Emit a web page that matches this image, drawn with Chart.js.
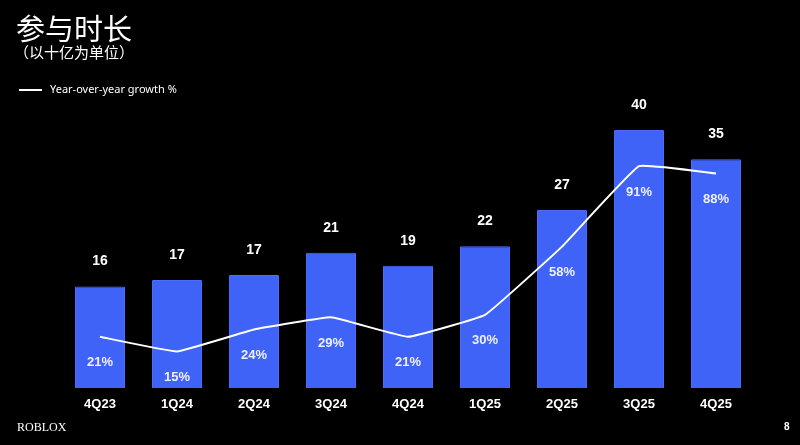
<!DOCTYPE html>
<html>
<head>
<meta charset="utf-8">
<script src="https://cdn.jsdelivr.net/npm/chart.js@4"></script>
<style>
    html, body { margin: 0; padding: 0; background: #000; }
    #wrap { position: relative; width: 800px; height: 445px; overflow: hidden; }
    #chart { position: absolute; left: 0; top: 0; }
    .title { position: absolute; left: 16px; top: 6px; color: #fff; font: 29px "Noto Sans CJK SC", sans-serif; }
    .sub { position: absolute; left: 14px; top: 41px; color: #fff; font: 15px "Noto Sans CJK SC", sans-serif; }
    .legend { position: absolute; left: 19px; top: 81px; color: #fff; font: 11px "Noto Sans", sans-serif; }
    .legend i { display: inline-block; width: 23px; height: 2px; background: #fff; vertical-align: middle; margin-right: 8px; }
    .brand { position: absolute; left: 17px; top: 420px; color: #fff; font: 12px "Liberation Serif", serif; }
    .page { position: absolute; left: 784px; top: 421px; color: #fff; font: bold 10px "Liberation Sans", sans-serif; }
</style>
</head>
<body>
<div id="wrap">
    <canvas id="chart" width="800" height="445"></canvas>
    <div class="title">参与时长</div>
    <div class="sub">（以十亿为单位）</div>
    <div class="legend"><i></i>Year-over-year growth %</div>
    <div class="brand">ROBLOX</div>
    <div class="page">8</div>
</div>
<script>
const quarters = ["4Q23", "1Q24", "2Q24", "3Q24", "4Q24", "1Q25", "2Q25", "3Q25", "4Q25"];
// engagement hours, billions (bar heights, labels are rounded)
const hours = [15.6, 16.6, 17.4, 20.8, 18.8, 21.8, 27.4, 39.7, 35.2];
// year-over-year growth %
const growth = [21, 15, 24, 29, 21, 30, 58, 91, 88];

// labels over bars, inside bars and under the axis
const labelPlugin = {
    id: "labels",
    afterDatasetsDraw(chart) {
        const ctx = chart.ctx;
        const pts = chart.getDatasetMeta(0).data;
        const bars = chart.getDatasetMeta(1).data;
        ctx.save();
        ctx.textAlign = "center";
        ctx.textBaseline = "middle";
        bars.forEach((bar, i) => {
            ctx.fillStyle = "#fff";
            ctx.font = "bold 14px 'Liberation Sans', Arial, sans-serif";
            ctx.fillText(Math.round(hours[i]), bar.x, bar.y - 25);
            ctx.font = "bold 13px 'Liberation Sans', Arial, sans-serif";
            ctx.fillText(quarters[i], bar.x, 404);
            ctx.fillStyle = "#eef0ff";
            ctx.fillText(growth[i] + "%", bar.x, pts[i].y + 26);
        });
        ctx.restore();
    },
};

const ctx = document.getElementById("chart");
new Chart(ctx, {
    data: {
        labels: quarters,
        datasets: [
            {
                type: "line",
                label: "Year-over-year growth %",
                data: growth,
                yAxisID: "y2",
                borderColor: "#fff",
                borderWidth: 2,
                pointRadius: 0,
                tension: 0.08,
                order: 0,
            },
            {
                type: "bar",
                label: "Hours",
                data: hours,
                yAxisID: "y",
                backgroundColor: "#3f63f6",
                borderColor: "#4a6ef8",
                borderWidth: 1,
                borderRadius: 1,
                barPercentage: 0.65,
                categoryPercentage: 1,
                order: 1,
            },
        ],
    },
    options: {
        responsive: false,
        animation: false,
        layout: { padding: { left: 61.5, right: 45.5, top: 95.5, bottom: 57 } },
        plugins: {
            legend: { display: false },
            tooltip: { enabled: false },
        },
        scales: {
            x: { display: false },
            y: { display: false, min: 0, max: 45 },
            y2: { display: false, min: 0, max: 120 },
        },
    },
    plugins: [labelPlugin],
});
</script>
</body>
</html>
